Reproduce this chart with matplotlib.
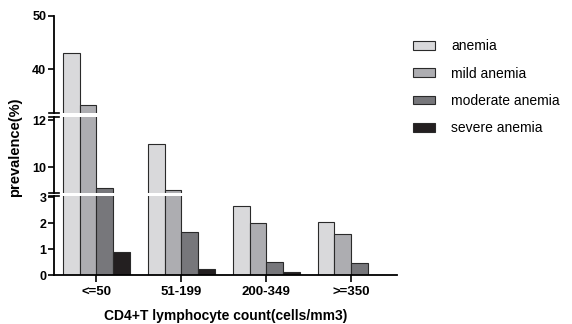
import numpy as np
import matplotlib.pyplot as plt
from matplotlib.lines import Line2D

plt.rcParams['font.family'] = ['Liberation Sans', 'DejaVu Sans']

categorias = ['<=50', '51-199', '200-349', '>=350']
series = ['anemia', 'mild anemia', 'moderate anemia', 'severe anemia']
anemia = [43.0, 11.0, 2.68, 2.05]
leve = [33.2, 9.02, 1.99, 1.57]
moderada = [9.1, 1.67, 0.49, 0.45]
severa = [0.9, 0.22, 0.13, 0.0]
colores = ['#d9d9db', '#adadb1', '#77777b', '#231f20']

valores = [anemia, leve, moderada, severa]

W, H = 572, 324
fig = plt.figure(figsize=(W / 100, H / 100), dpi=100)

def caja(x0, y0, x1, y1):
    # caja en pixeles (origen arriba-izquierda) -> coords de figura
    return [x0 / W, 1 - y1 / H, (x1 - x0) / W, (y1 - y0) / H]

ax_top = fig.add_axes(caja(54, 16, 397, 113))
ax_mid = fig.add_axes(caja(54, 117, 397, 193))
ax_bot = fig.add_axes(caja(54, 196, 397, 275))
ejes = [ax_top, ax_mid, ax_bot]

x = np.arange(len(categorias))
ancho = 0.197
for ax in ejes:
    for i, (s, v) in enumerate(zip(series, valores)):
        ax.bar(x + (i - 1.5) * ancho, v, ancho, color=colores[i],
               edgecolor='#2a2a2a', linewidth=0.8, label=s)
    ax.set_xlim(-0.5, 3.54)
    for lado in ['top', 'right']:
        ax.spines[lado].set_visible(False)
    ax.spines['left'].set_linewidth(1.3)
    ax.tick_params(axis='y', direction='out', length=4, width=1.2,
                   labelsize=9, pad=1.5)

ax_top.set_ylim(31.7, 50)
ax_top.set_yticks([40, 50])
ax_mid.set_ylim(8.9, 12.13)
ax_mid.set_yticks([10, 12])
ax_bot.set_ylim(0, 3.05)
ax_bot.set_yticks([0, 1, 2, 3])

for ax in [ax_top, ax_mid]:
    ax.spines['bottom'].set_visible(False)
    ax.set_xticks([])

ax_bot.spines['bottom'].set_linewidth(1.3)
ax_bot.set_xticks(x)
ax_bot.set_xticklabels(categorias, fontsize=9.5, fontweight='bold')
ax_bot.tick_params(axis='x', direction='out', length=5, width=1.2, pad=3)
ax_bot.set_xlabel('CD4+T lymphocyte count(cells/mm3)', fontsize=10,
                  fontweight='bold', labelpad=8)

for ax in ejes:
    for t in ax.get_yticklabels():
        t.set_fontweight('bold')

# marcas de corte en el eje
d = 0.014
for ax, ys in [(ax_top, [0]), (ax_mid, [0, 1]), (ax_bot, [1])]:
    for yy in ys:
        ax.add_line(Line2D([-d, d], [yy, yy], transform=ax.transAxes,
                           color='black', linewidth=1.2, clip_on=False))

fig.text(15 / W, 1 - 147 / H, 'prevalence(%)', rotation=90, ha='center',
         va='center', fontsize=10.5, fontweight='bold')

h, l = ax_bot.get_legend_handles_labels()
fig.legend(h, l, loc='upper left', bbox_to_anchor=(400 / W, 1 - 27 / H),
           frameon=False, fontsize=10, handlelength=1.65, handleheight=0.6,
           labelspacing=0.95, handletextpad=1.15)

fig.savefig('out.png', dpi=100)
